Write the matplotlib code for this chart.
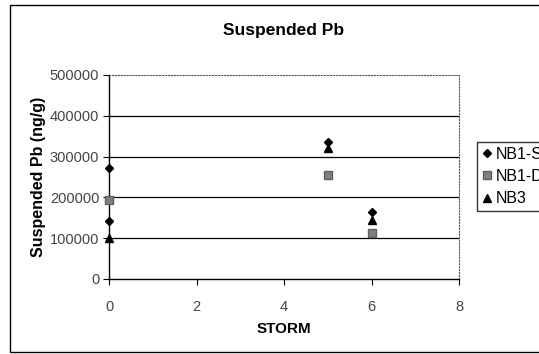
import matplotlib
matplotlib.use("Agg")
import matplotlib.pyplot as plt
from matplotlib.patches import Rectangle

# storm number vs suspended Pb (ng/g)
nb1s_x = [0, 0, 5, 6]
nb1s_y = [272000, 142000, 337000, 163000]
nb1d_x = [0, 5, 6]
nb1d_y = [193000, 255000, 113000]
nb3_x = [0, 5, 6]
nb3_y = [100000, 322000, 145000]

yticks = [0, 100000, 200000, 300000, 400000, 500000]
xticks = [0, 2, 4, 6, 8]

plt.rcParams['font.family'] = ['Liberation Sans', 'DejaVu Sans']

fig = plt.figure(figsize=(5.39, 3.54), dpi=100)
fig.patches.append(Rectangle((10 / 539, 2 / 354), 1.2, 347 / 354, transform=fig.transFigure,
                             fill=False, edgecolor='black', linewidth=1.0))

ax = fig.add_axes([109 / 539, 75 / 354, 350 / 539, 204 / 354])
ax.set_xlim(0, 8)
ax.set_ylim(0, 500000)

for v in yticks[1:-1]:
    ax.axhline(v, color='black', linewidth=0.9, zorder=1)

ax.spines['top'].set_linestyle(':')
ax.spines['top'].set_color('#555555')
ax.spines['right'].set_linestyle(':')
ax.spines['right'].set_color('#555555')
ax.spines['left'].set_linewidth(1.0)
ax.spines['bottom'].set_linewidth(1.0)

ax.plot(nb1s_x, nb1s_y, 'D', color='black', markersize=4.5, linestyle='none', label='NB1-S',
        zorder=3, clip_on=False)
ax.plot(nb1d_x, nb1d_y, 's', color='#808080', markeredgecolor='#606060', markersize=5.5,
        linestyle='none', label='NB1-D', zorder=3, clip_on=False)
ax.plot(nb3_x, nb3_y, '^', color='black', markersize=5.5, linestyle='none', label='NB3',
        zorder=3, clip_on=False)

ax.set_yticks(yticks)
ax.set_yticklabels([str(v) for v in yticks])
ax.set_xticks(xticks)
ax.tick_params(axis='both', direction='out', length=4, labelsize=10.5, colors='black',
               labelcolor='#444444')
ax.tick_params(axis='x', pad=11)
ax.tick_params(axis='y', pad=3)

ax.set_title('Suspended Pb', fontsize=12.5, fontweight='bold', pad=29)
ax.set_ylabel('Suspended Pb (ng/g)', fontsize=11.5, fontweight='bold', labelpad=3)
ax.set_xlabel('STORM', fontsize=11, fontweight='bold', labelpad=6)

leg = ax.legend(loc='upper left', bbox_to_anchor=(477 / 539, 212 / 354), bbox_transform=fig.transFigure,
                frameon=True, fancybox=False, edgecolor='black', fontsize=11.5, handlelength=0.6,
                handletextpad=0.3, borderpad=0.3, labelspacing=0.45, borderaxespad=0)
leg.get_frame().set_linewidth(1.0)

fig.savefig('out.png', dpi=100)
